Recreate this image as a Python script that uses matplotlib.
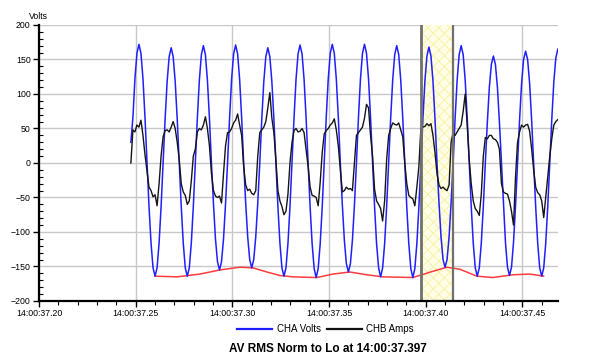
"""
Waveform capture: CHA volts / CHB amps with RMS trace and highlighted cycle.
"""

import numpy as np
import matplotlib
matplotlib.use("Agg")
import matplotlib.pyplot as plt
from matplotlib.lines import Line2D
from matplotlib.ticker import MultipleLocator

plt.rcParams["font.family"] = ["Liberation Sans", "DejaVu Sans"]
plt.rcParams["hatch.linewidth"] = 0.6

# time is seconds after 14:00:37.20, 16 samples per 60 Hz cycle
T_START = 0.047543
DT = 1.0 / 960.0

# CHA volts, one row per cycle
VOLTS = [
    30, 66, 122, 159, 172, 159, 122, 66, 0, -63, -116, -152, -164, -152, -116, -63,
    0, 64, 118, 154, 167, 154, 118, 64, 0, -63, -116, -152, -164, -152, -116, -63,
    0, 65, 120, 157, 170, 157, 120, 65, 0, -59, -110, -143, -155, -143, -110, -59,
    0, 65, 121, 158, 171, 158, 121, 65, 0, -58, -107, -140, -152, -140, -107, -58,
    0, 64, 118, 154, 167, 154, 118, 64, 0, -63, -116, -152, -164, -152, -116, -63,
    0, 65, 121, 158, 171, 158, 121, 65, 0, -64, -117, -153, -166, -153, -117, -64,
    0, 66, 122, 159, 172, 159, 122, 66, 0, -61, -112, -146, -158, -146, -112, -61,
    0, 66, 122, 159, 172, 159, 122, 66, 0, -63, -117, -152, -165, -152, -117, -63,
    0, 65, 120, 157, 170, 157, 120, 65, 0, -64, -117, -153, -166, -153, -117, -64,
    0, 64, 119, 155, 168, 155, 119, 64, 0, -58, -107, -140, -151, -140, -107, -58,
    0, 65, 120, 157, 170, 157, 120, 65, 0, -63, -116, -152, -164, -152, -116, -63,
    0, 59, 110, 143, 155, 143, 110, 59, 0, -62, -115, -151, -163, -151, -115, -62,
    0, 62, 115, 150, 162, 150, 115, 62, 0, -63, -116, -152, -164, -152, -116, -63,
    0, 63, 117, 152, 165,
]

# CHB amps, same sample clock
AMPS = [
    0, 48, 45, 55, 52, 62, 40, 12, -12, -35, -40, -49, -46, -62, -30, 10,
    38, 47, 48, 45, 52, 60, 50, 30, 5, -30, -42, -47, -60, -55, -26, 10,
    20, 45, 50, 48, 55, 67, 50, 25, -15, -40, -48, -50, -48, -58, -15, 25,
    44, 45, 50, 58, 62, 71, 55, 40, -5, -32, -40, -38, -44, -46, -40, 10,
    44, 48, 52, 60, 80, 102, 65, 44, 5, -40, -55, -63, -75, -70, -45, 0,
    30, 47, 50, 45, 46, 50, 44, 20, -5, -35, -47, -48, -50, -62, -28, 15,
    42, 47, 50, 55, 58, 64, 48, 25, -10, -42, -40, -35, -38, -37, -40, 0,
    40, 44, 48, 52, 65, 85, 80, 40, 10, -38, -55, -60, -66, -84, -55, 5,
    40, 50, 58, 56, 55, 58, 48, 38, 0, -30, -47, -50, -52, -62, -35, -5,
    50, 52, 53, 57, 54, 57, 40, 15, -15, -32, -37, -35, -38, -40, -32, 30,
    44, 40, 45, 50, 55, 75, 100, 55, 5, -30, -55, -66, -70, -76, -45, 10,
    37, 35, 40, 40, 35, 34, 30, 20, -30, -42, -44, -45, -55, -70, -90, -20,
    30, 45, 55, 52, 55, 56, 46, 20, -10, -35, -43, -46, -55, -79, -50, -20,
    10, 35, 55, 60, 63,
]

# RMS normalised-to-low trace (red)
RED_T = [0.0600, 0.0714, 0.0832, 0.0936, 0.1039, 0.1107, 0.1179, 0.1246,
         0.1313, 0.1437, 0.1520, 0.1608, 0.1696, 0.1779, 0.1934, 0.2037,
         0.2110, 0.2177, 0.2265, 0.2347, 0.2451, 0.2539, 0.2610]
RED_V = [-164, -165, -161, -155, -151, -152, -158, -163,
         -165, -166, -161, -158, -162, -165, -166, -157,
         -151, -154, -164, -166, -162, -161, -164]

# highlighted cycle (starts 14:00:37.397)
BAND_START = 0.197543
BAND_END = 0.214210

TICK_POS = [0.00, 0.05, 0.10, 0.15, 0.20, 0.25]
TICK_LABELS = ["14:00:37.20", "14:00:37.25", "14:00:37.30",
               "14:00:37.35", "14:00:37.40", "14:00:37.45"]

BLUE = "#1f1fff"
RED = "#ff3b3b"

fig = plt.figure(figsize=(5.96, 3.60), dpi=100)
ax = fig.add_axes([0.0654, 0.1639, 0.8703, 0.7667])

t = T_START + np.arange(len(VOLTS)) * DT

# highlighted cycle
ax.axvspan(BAND_START, BAND_END, facecolor="#fffde6", edgecolor="#f6f1a0",
           hatch="xxx", linewidth=0, zorder=1)
ax.axvline(BAND_START, color="#707070", lw=2.0, zorder=4)
ax.axvline(BAND_END, color="#707070", lw=1.6, zorder=4)

ax.plot(RED_T, RED_V, color=RED, lw=1.1, zorder=2)
ax.plot(t, VOLTS, color=BLUE, lw=1.1, zorder=3)
ax.plot(t[:len(AMPS)], AMPS, color="#151515", lw=1.0, zorder=3.5)

ax.set_xlim(0, 0.2683)
ax.set_ylim(-200, 200)
ax.set_xticks(TICK_POS)
ax.set_xticklabels(TICK_LABELS)
ax.xaxis.set_minor_locator(MultipleLocator(0.01))
ax.yaxis.set_major_locator(MultipleLocator(50))
ax.yaxis.set_minor_locator(MultipleLocator(10))

ax.grid(which="major", color="#c8c8c8", lw=1.0, zorder=0)
ax.set_axisbelow(True)
for s in ["top", "right"]:
    ax.spines[s].set_visible(False)
for s in ["left", "bottom"]:
    ax.spines[s].set_linewidth(1.6)
    ax.spines[s].set_zorder(5)

ax.tick_params(axis="both", which="major", labelsize=6.3, length=4, width=1.0, pad=2)
ax.tick_params(axis="x", which="minor", length=3, width=0.8, direction="out")
ax.tick_params(axis="y", which="minor", length=3, width=0.8, direction="in")

fig.text(0.064, 0.955, "Volts", fontsize=6.3, ha="center", va="center")

handles = [Line2D([], [], color=BLUE, lw=1.6), Line2D([], [], color="#111111", lw=1.6)]
fig.legend(handles, ["CHA Volts", "CHB Amps"], loc="center", ncol=2,
           bbox_to_anchor=(0.546, 0.086), frameon=False, fontsize=7,
           handlelength=3.6, handletextpad=0.5, columnspacing=0.6)

fig.text(0.550, 0.031, "AV RMS Norm to Lo at 14:00:37.397", fontsize=8.5,
         fontweight="bold", ha="center", va="center")

fig.savefig("out.png", dpi=100)
